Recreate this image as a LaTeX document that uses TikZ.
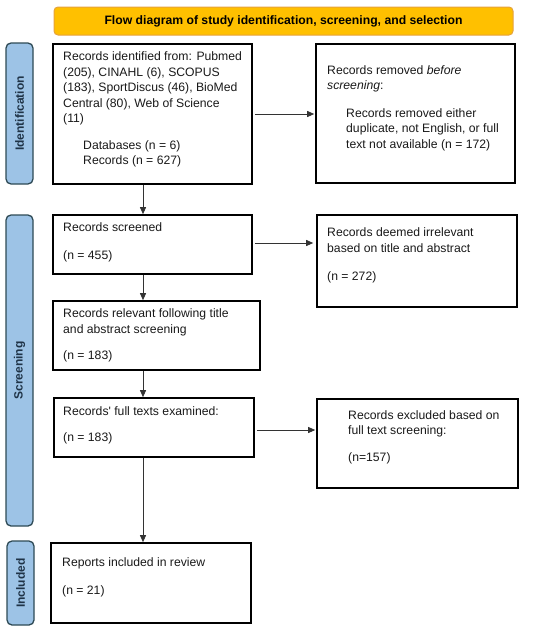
\documentclass[tikz,border=0pt]{standalone}
\usepackage{fontspec}
\setmainfont{Liberation Sans}
\newfontfamily\plainfont{Liberation Sans}[Ligatures=TeXOff]
\usetikzlibrary{arrows.meta}
\definecolor{titlefill}{HTML}{FFC000}
\definecolor{titledraw}{HTML}{E5A23C}
\definecolor{sidefill}{HTML}{9DC3E6}
\definecolor{sidedraw}{HTML}{2E4A55}
\definecolor{sidetext}{HTML}{1F3347}
\definecolor{arrowcol}{HTML}{333333}
\tikzset{
  box/.style={draw=black, line width=1.6pt, inner sep=0pt},
  txt/.style={anchor=mid west, inner sep=0pt, font=\fontsize{12.2}{15}\selectfont, text=black!90},
  sidebar/.style={draw=sidedraw, fill=sidefill, line width=1.3pt, rounded corners=5pt, inner sep=0pt},
  sidelabel/.style={rotate=90, font=\fontsize{12}{14}\selectfont\bfseries, text=sidetext, inner sep=0pt},
  flow/.style={draw=arrowcol, line width=0.8pt, -{Triangle[length=7pt,width=6pt]}},
}
\begin{document}
\begin{tikzpicture}[x=1pt,y=-1pt]
\useasboundingbox (0,0) rectangle (550,632);
% title
\node[draw=titledraw, fill=titlefill, line width=1pt, rounded corners=4pt, minimum width=459pt, minimum height=28pt, inner sep=0pt, font=\fontsize{12.2}{14}\selectfont\bfseries] (title) at (283.5,21) {Flow diagram of study identification, screening, and selection};
% side bars
\node[sidebar, minimum width=27pt, minimum height=141pt] (sid) at (19.5,113.5) {};
\node[sidelabel] (lid) at (sid.center) {Identification};
\node[sidebar, minimum width=27pt, minimum height=311pt] (sscr) at (19.5,370.5) {};
\node[sidelabel] (lscr) at (sscr.center) {Screening};
\node[sidebar, minimum width=27pt, minimum height=84pt] (sinc) at (20.5,583) {};
\node[sidelabel] (linc) at (sinc.center) {Included};
% boxes
\node[box, minimum width=199pt, minimum height=140pt] (b1) at (152.5,114) {};
\node[box, minimum width=199pt, minimum height=139pt] (b2) at (415.5,113.5) {};
\node[box, minimum width=199pt, minimum height=59pt] (b3) at (152.5,244.5) {};
\node[box, minimum width=200pt, minimum height=92pt] (b4) at (417,261) {};
\node[box, minimum width=207pt, minimum height=69pt] (b5) at (156.5,335.5) {};
\node[box, minimum width=200pt, minimum height=59pt] (b6) at (154,427.5) {};
\node[box, minimum width=201pt, minimum height=89pt] (b7) at (417.5,443.5) {};
\node[box, minimum width=200pt, minimum height=80pt] (b8) at (151,583) {};
% texts
\node[txt] (t1a) at (63,58.3) {Records identified from: Pubmed};
\node[txt] (t1b) at (63,74) {(205), CINAHL (6), SCOPUS};
\node[txt] (t1c) at (63,89.3) {(183), SportDiscus (46), BioMed};
\node[txt] (t1d) at (63,104.7) {Central (80), Web of Science};
\node[txt] (t1e) at (63,120) {(11)};
\node[txt] (t1f) at (83,146.7) {Databases (n = 6)};
\node[txt] (t1g) at (83,162.3) {Records (n = 627)};
\node[txt] (t2a) at (327,71.7) {Records removed \textit{before}};
\node[txt] (t2b) at (327,87.3) {\textit{screening}:};
\node[txt] (t2c) at (346,115) {Records removed either};
\node[txt] (t2d) at (346,130) {duplicate, not English, or full};
\node[txt] (t2e) at (346,145.7) {text not available (n = 172)};
\node[txt] (t3a) at (63,229.3) {Records screened};
\node[txt] (t3b) at (63,257.3) {(n = 455)};
\node[txt] (t4a) at (327,234.3) {Records deemed irrelevant};
\node[txt] (t4b) at (327,250) {based on title and abstract};
\node[txt] (t4c) at (327,278.3) {(n = 272)};
\node[txt] (t5a) at (63,315) {Records relevant following title};
\node[txt] (t5b) at (63,330.7) {and abstract screening};
\node[txt] (t5c) at (63,356.7) {(n = 183)};
\node[txt] (t6a) at (63,412.7) {{\plainfont Records' full texts examined:}};
\node[txt] (t6b) at (63,439.3) {(n = 183)};
\node[txt] (t7a) at (348,416.7) {Records excluded based on};
\node[txt] (t7b) at (348,431.7) {full text screening:};
\node[txt] (t7c) at (348,459.3) {(n=157)};
\node[txt] (t8a) at (62,564) {Reports included in review};
\node[txt] (t8b) at (62,592.3) {(n = 21)};
% connectors
\coordinate (col) at (143,0);
\draw[flow, shorten <=2pt, shorten >=1pt] (b1.east) -- (b1.east -| b2.west);
\draw[flow, shorten <=2pt, shorten >=3pt] ([yshift=1.5pt]b3.east) -- ([yshift=1.5pt]b3.east -| b4.west);
\draw[flow, shorten <=2pt, shorten >=1pt] ([yshift=-2.5pt]b6.east) -- ([yshift=-2.5pt]b6.east -| b7.west);
\draw[flow] (b1.south -| col) -- (b3.north -| col);
\draw[flow] (b3.south -| col) -- (b5.north -| col);
\draw[flow] (b5.south -| col) -- (b6.north -| col);
\draw[flow] (b6.south -| col) -- (b8.north -| col);
\end{tikzpicture}
\end{document}
